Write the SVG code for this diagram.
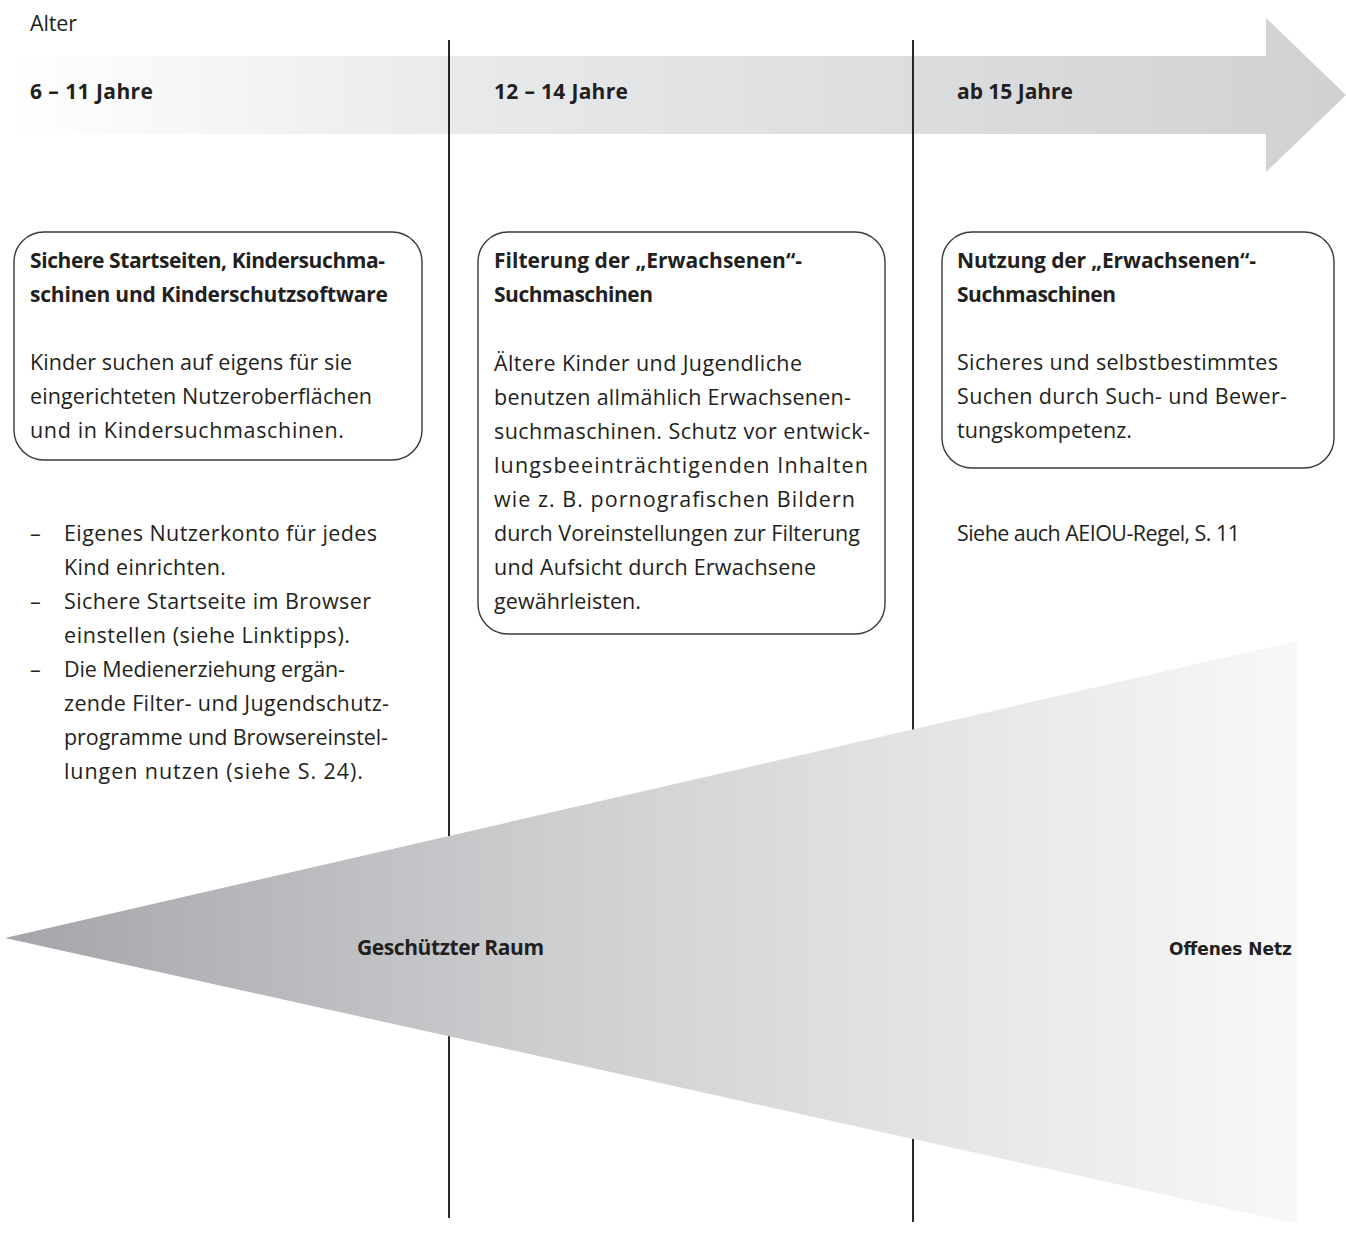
<svg xmlns="http://www.w3.org/2000/svg" width="1346" height="1248" viewBox="0 0 1346 1248">
<defs>
<linearGradient id="gArrow" x1="10" y1="0" x2="1346" y2="0" gradientUnits="userSpaceOnUse">
<stop offset="0" stop-color="#ffffff"/>
<stop offset="0.35" stop-color="#e8e9ea"/>
<stop offset="1" stop-color="#d0d1d3"/>
</linearGradient>
<linearGradient id="gTri" x1="5" y1="0" x2="1297" y2="0" gradientUnits="userSpaceOnUse">
<stop offset="0" stop-color="#a4a5a9"/>
<stop offset="0.4" stop-color="#cbccce"/>
<stop offset="0.7" stop-color="#e2e3e5"/>
<stop offset="1" stop-color="#f8f8f8"/>
</linearGradient>
<style>
text{font-family:"Open Sans","Noto Sans","Liberation Sans",sans-serif;fill:#231f20;}
.t{font-size:21.5px;}
.b{font-size:21px;font-weight:700;}
.a{font-size:21px;font-weight:700;}
.v{font-family:"DejaVu Sans","Liberation Sans",sans-serif;font-size:17px;font-weight:700;}
.box{fill:none;stroke:#3a3a3a;stroke-width:1.4;}
.div{stroke:#111;stroke-width:1.8;}
</style>
</defs>
<rect width="1346" height="1248" fill="#ffffff"/>
<g id="age-arrow">
<polygon points="10,56 1266,56 1266,18 1346,95 1266,172 1266,134 10,134" fill="url(#gArrow)"/>
<text class="t" x="30" y="31" textLength="47">Alter</text>
</g>
<g id="connectors">
<line class="div" x1="449" y1="40" x2="449" y2="1218"/>
<line class="div" x1="913" y1="40" x2="913" y2="1222"/>
</g>
<g id="age-labels">
<text class="a" x="30" y="99" textLength="123">6 – 11 Jahre</text>
<text class="a" x="494" y="99" textLength="134">12 – 14 Jahre</text>
<text class="a" x="957" y="99" textLength="116">ab 15 Jahre</text>
</g>
<g id="box1">
<rect class="box" x="14" y="232" width="408" height="228" rx="30"/>
<text class="b" x="30" y="268" textLength="355">Sichere Startseiten, Kindersuchma-</text>
<text class="b" x="30" y="302" textLength="358">schinen und Kinderschutzsoftware</text>
<text class="t" x="30" y="370" textLength="322">Kinder suchen auf eigens für sie</text>
<text class="t" x="30" y="404" textLength="342">eingerichteten Nutzeroberflächen</text>
<text class="t" x="30" y="438" textLength="314">und in Kindersuchmaschinen.</text>
</g>
<g id="box2">
<rect class="box" x="478" y="232" width="407" height="402" rx="30"/>
<text class="b" x="494" y="268" textLength="308">Filterung der „Erwachsenen“-</text>
<text class="b" x="494" y="302" textLength="159">Suchmaschinen</text>
<text class="t" x="494" y="371" textLength="308">Ältere Kinder und Jugendliche</text>
<text class="t" x="494" y="405" textLength="357">benutzen allmählich Erwachsenen-</text>
<text class="t" x="494" y="439" textLength="376">suchmaschinen. Schutz vor entwick-</text>
<text class="t" x="494" y="473" textLength="374">lungsbeeinträchtigenden Inhalten</text>
<text class="t" x="494" y="507" textLength="361">wie z. B. pornografischen Bildern</text>
<text class="t" x="494" y="541" textLength="366">durch Voreinstellungen zur Filterung</text>
<text class="t" x="494" y="575" textLength="322">und Aufsicht durch Erwachsene</text>
<text class="t" x="494" y="609" textLength="147">gewährleisten.</text>
</g>
<g id="box3">
<rect class="box" x="942" y="232" width="392" height="236" rx="30"/>
<text class="b" x="957" y="268" textLength="299">Nutzung der „Erwachsenen“-</text>
<text class="b" x="957" y="302" textLength="159">Suchmaschinen</text>
<text class="t" x="957" y="370" textLength="321">Sicheres und selbstbestimmtes</text>
<text class="t" x="957" y="404" textLength="330">Suchen durch Such- und Bewer-</text>
<text class="t" x="957" y="438" textLength="175">tungskompetenz.</text>
</g>
<g id="tips1">
<text class="t" x="30" y="541">–</text>
<text class="t" x="64" y="541" textLength="313">Eigenes Nutzerkonto für jedes</text>
<text class="t" x="64" y="575" textLength="162">Kind einrichten.</text>
<text class="t" x="30" y="609">–</text>
<text class="t" x="64" y="609" textLength="307">Sichere Startseite im Browser</text>
<text class="t" x="64" y="643" textLength="286">einstellen (siehe Linktipps).</text>
<text class="t" x="30" y="677">–</text>
<text class="t" x="64" y="677" textLength="281">Die Medienerziehung ergän-</text>
<text class="t" x="64" y="711" textLength="325">zende Filter- und Jugendschutz-</text>
<text class="t" x="64" y="745" textLength="324">programme und Browsereinstel-</text>
<text class="t" x="64" y="779" textLength="299">lungen nutzen (siehe S. 24).</text>
</g>
<g id="tips3">
<text class="t" x="957" y="541" textLength="283">Siehe auch AEIOU-Regel, S. 11</text>
</g>
<g id="space-wedge">
<polygon points="5,938 1297,641 1297,1224" fill="url(#gTri)"/>
<text class="b" x="357" y="955" textLength="187">Geschützter Raum</text>
<text class="v" x="1292" y="955" text-anchor="end" textLength="123">Offenes Netz</text>
</g>
</svg>
